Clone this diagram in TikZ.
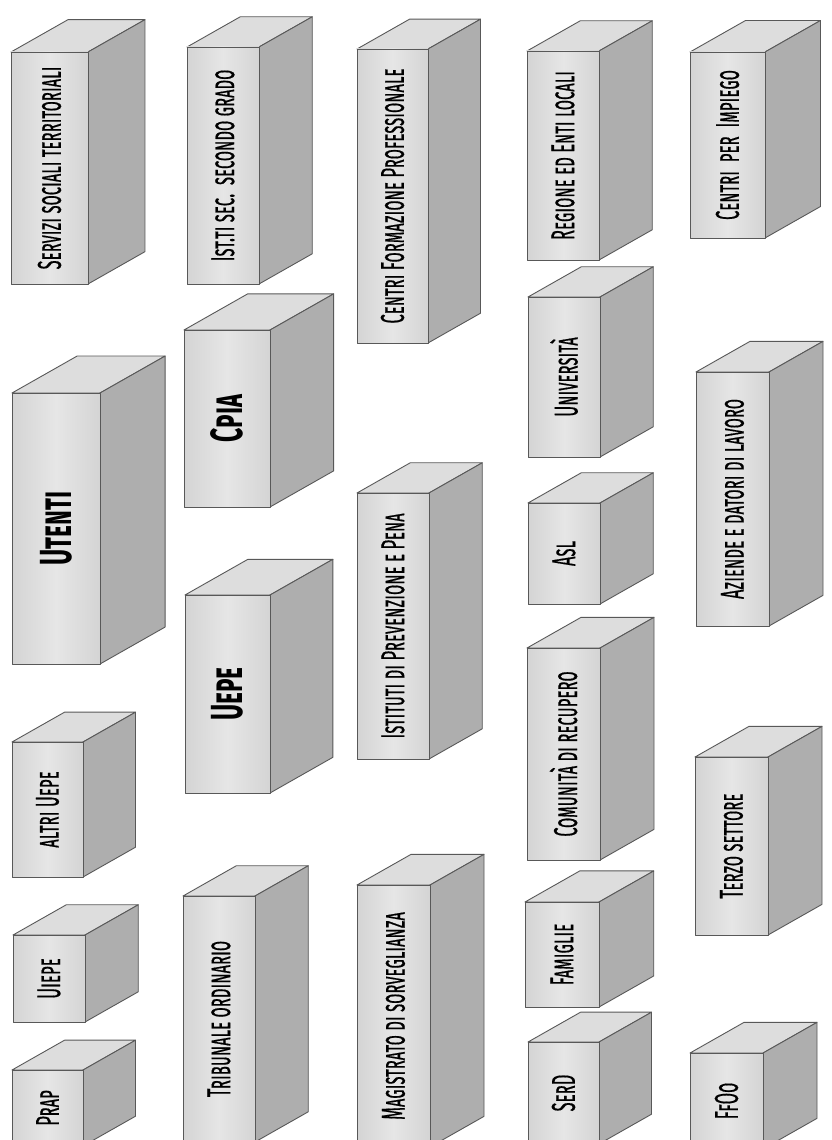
\documentclass[tikz,border=0pt]{standalone}
\usepackage{fontspec}
\newfontfamily\tagfont{Fira Sans}[FakeStretch=0.5, FakeBold=0.4]
\newfontfamily\bigtagfont{Fira Sans}[FakeStretch=0.55]
\definecolor{facegray}{RGB}{212,212,212}
\definecolor{facelight}{RGB}{230,230,230}
\definecolor{topgray}{RGB}{221,221,221}
\definecolor{sidegray}{RGB}{174,174,174}
\definecolor{edgegray}{RGB}{88,88,88}
\begin{document}
\begin{tikzpicture}[x=1pt, y=-1pt, line join=round,
    boxfront/.style={draw=edgegray, line width=0.9pt, left color=facegray, right color=facegray, middle color=facelight},
    boxtop/.style={draw=edgegray, line width=0.9pt, fill=topgray},
    boxside/.style={draw=edgegray, line width=0.9pt, fill=sidegray},
    tag/.style={rotate=90, inner sep=0pt, font=\tagfont\fontsize{33}{35}\selectfont\scshape},
    bigtag/.style={tag, font=\bigtagfont\bfseries\fontsize{45}{47}\selectfont\scshape}]
  \useasboundingbox (0,0) rectangle (832,1140);
  \clip (0,0) rectangle (832,1140);
  % every box: name / left / top / width / height / label (pixel units, y downwards)
  \foreach \nm/\bx/\by/\bw/\bh/\txt in {
      srv/11/52/77/232/{Servizi sociali territoriali},
      ist/187/47/72/237/{Ist.ti sec.\ \ secondo grado},
      cfp/357/49/71/294/{Centri Formazione Professionale},
      reg/527/51/72/209/{Regione ed Enti locali},
      cpi/690/52/75/186/{Centri\ \ per\ \ Impiego},
      uni/528/297/72/160/{Università},
      azd/696/372/73/254/{Aziende e datori di lavoro},
      ipp/357/493/72/266/{Istituti di Prevenzione e Pena},
      asl/528/503/72/101/{Asl},
      com/527/648/73/212/{Comunità di recupero},
      alt/12/742/71/135/{altri Uepe},
      ter/695/757/73/178/{Terzo settore},
      mag/357/885/73/262/{Magistrato di sorveglianza},
      tri/183/896/72/246/{Tribunale ordinario},
      fam/525/902/74/105/{Famiglie},
      uie/13/935/72/87/{Uiepe},
      srd/528/1042/71/102/{SerD},
      ffo/690/1053/73/96/{FfOo},
      prp/12/1070/71/76/{Prap}} {
    \pgfmathsetmacro\dx{0.74*\bw}
    \pgfmathsetmacro\dy{0.42*\bw}
    \draw[boxtop] (\bx,\by) -- ++(\dx,-\dy) -- ++(\bw,0) -- ++(-\dx,\dy) -- cycle;
    \draw[boxside] ({\bx+\bw},\by) -- ++(\dx,-\dy) -- ++(0,\bh) -- ++(-\dx,\dy) -- cycle;
    \draw[boxfront] (\bx,\by) rectangle ++(\bw,\bh);
    \node[tag] (\nm) at ({\bx+\bw/2},{\by+\bh/2}) {\txt};
  }
  % the three main actors, in bold
  \foreach \nm/\bx/\by/\bw/\bh/\txt in {
      cpia/184/330/86/177/{Cpia},
      ute/12/393/88/271/{Utenti},
      uepe/185/595/85/198/{Uepe}} {
    \pgfmathsetmacro\dx{0.74*\bw}
    \pgfmathsetmacro\dy{0.42*\bw}
    \draw[boxtop] (\bx,\by) -- ++(\dx,-\dy) -- ++(\bw,0) -- ++(-\dx,\dy) -- cycle;
    \draw[boxside] ({\bx+\bw},\by) -- ++(\dx,-\dy) -- ++(0,\bh) -- ++(-\dx,\dy) -- cycle;
    \draw[boxfront] (\bx,\by) rectangle ++(\bw,\bh);
    \node[bigtag] (\nm) at ({\bx+\bw/2},{\by+\bh/2}) {\txt};
  }
\end{tikzpicture}
\end{document}
